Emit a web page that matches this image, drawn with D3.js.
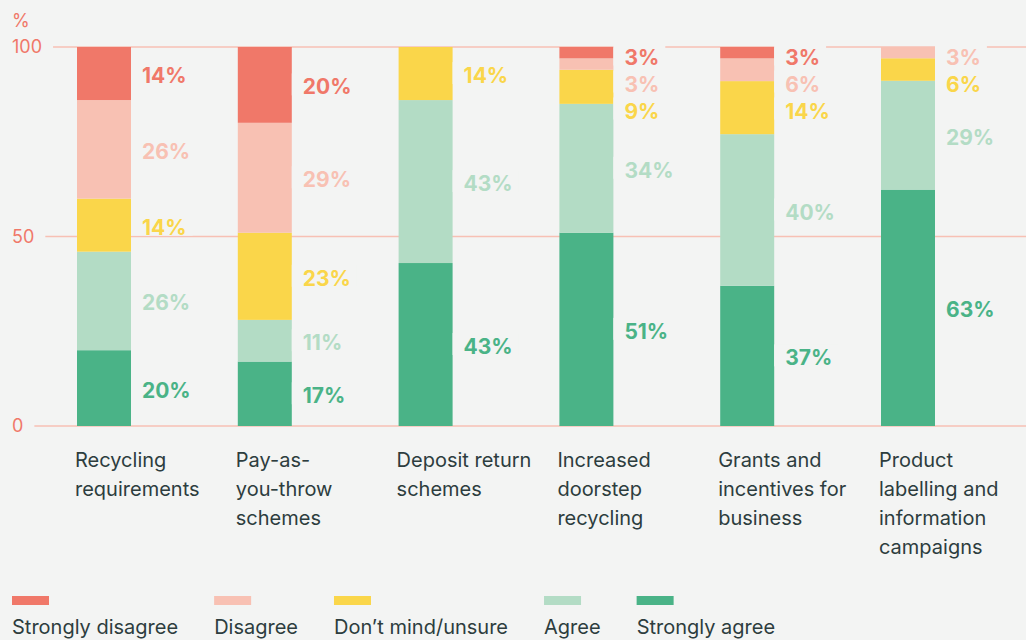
<!DOCTYPE html>
<html>
<head>
<meta charset="utf-8">
<script src="https://cdn.jsdelivr.net/npm/d3@7"></script>
<style>
  html, body { margin: 0; padding: 0; background: #f3f4f3; }
  svg { display: block; font-family: Inter, "Noto Sans", sans-serif; }
</style>
</head>
<body>
<div id="wrap"></div>
<script>
//  Categories along the x axis, each one split into several lines
const categories = [
  ["Recycling", "requirements"],
  ["Pay-as-", "you-throw", "schemes"],
  ["Deposit return", "schemes"],
  ["Increased", "doorstep", "recycling"],
  ["Grants and", "incentives for", "business"],
  ["Product", "labelling and", "information", "campaigns"],
];

//  Answer series, listed from top of the stack to the bottom
const answers = ["Strongly disagree", "Disagree", "Don\u2019t mind/unsure", "Agree", "Strongly agree"];
const colors = ["#f07869", "#f8c1b3", "#fad64a", "#b3dcc5", "#4ab387"];

//  Percent per category for each answer (as printed on the chart)
const stronglyDisagree = [14, 20, 0, 3, 3, 0];
const disagree = [26, 29, 0, 3, 6, 3];
const unsure = [14, 23, 14, 9, 14, 6];
const agree = [26, 11, 43, 34, 40, 29];
const stronglyAgree = [20, 17, 43, 51, 37, 63];

const yTicks = [0, 50, 100];

const bg = "#f3f4f3";
const textColor = "#2d3d3e";
const axisColor = "#f07869";
const gridColor = "#f7c0b4";

const W = 1026, H = 640;
const svg = d3.select("#wrap").append("svg").attr("width", W).attr("height", H);

//  build rows for d3.stack, bottom of the stack first
const keys = ["sa", "a", "u", "d", "sd"];
const series = { sd: stronglyDisagree, d: disagree, u: unsure, a: agree, sa: stronglyAgree };
const keyColor = { sd: colors[0], d: colors[1], u: colors[2], a: colors[3], sa: colors[4] };
const rows = categories.map((c, i) => {
  const r = { i: i };
  keys.forEach((k) => (r[k] = series[k][i]));
  return r;
});

//  expand offset so every bar fills 0..100 %
const stacked = d3.stack().keys(keys).offset(d3.stackOffsetExpand)(rows);

const x = d3.scaleBand().domain(d3.range(categories.length)).range([77, 935])
  .paddingInner(0.6642).paddingOuter(0);
const y = d3.scaleLinear().domain([0, 100]).range([426, 47]);

//  y axis labels and gridlines
svg.append("text").attr("x", 12).attr("y", 21).attr("dy", "0.35em")
  .attr("fill", axisColor).style("font-size", "18px").text("%");

yTicks.forEach((t) => {
  const lab = svg.append("text").attr("x", 12).attr("y", y(t)).attr("dy", "0.36em")
    .attr("fill", axisColor).style("font-size", "18px").text(t);
  const w = lab.node().getComputedTextLength();
  svg.insert("line", ":first-child").attr("class", "grid")
    .attr("x1", 12 + w + 11).attr("x2", W)
    .attr("y1", y(t)).attr("y2", y(t))
    .attr("stroke", gridColor).attr("stroke-width", 1.5);
});

//  bars
const layer = svg.selectAll(".layer").data(stacked).enter().append("g")
  .attr("class", "layer").attr("fill", (d) => keyColor[d.key]);

layer.selectAll("rect").data((d) => d).enter().append("rect")
  .attr("x", (d, i) => x(i))
  .attr("width", x.bandwidth())
  .attr("y", (d) => y(d[1] * 100))
  .attr("height", (d) => y(d[0] * 100) - y(d[1] * 100));

//  value labels to the right of each bar, pushed apart when too close
const labelGap = 27;
const labelTop = y(100) + 10;
categories.forEach((c, i) => {
  let prev = -Infinity;
  //  go from the top of the stack down
  keys.slice().reverse().forEach((k) => {
    const s = stacked.find((st) => st.key === k)[i];
    const v = series[k][i];
    if (!v) return;
    const mid = y(((s[0] + s[1]) / 2) * 100) + 2;
    const ly = Math.max(mid, prev + labelGap, labelTop);
    prev = ly;
    const lx = x(i) + x.bandwidth() + 11;
    const g = svg.append("g");
    const rect = g.append("rect").attr("fill", bg);
    const t = g.append("text").attr("x", lx).attr("y", ly).attr("dy", "0.36em")
      .attr("fill", keyColor[k]).style("font-size", "21px").style("font-weight", 700)
      .text(v + "%");
    const tw = t.node().getComputedTextLength();
    rect.attr("x", lx - 11).attr("width", tw + 17)
      .attr("y", ly - 13.5).attr("height", 22);
  });
});

//  category labels under the bars
categories.forEach((lines, i) => {
  const t = svg.append("text").attr("x", x(i) - 2).attr("y", 467)
    .attr("fill", textColor).style("font-size", "20px");
  lines.forEach((l, j) => {
    t.append("tspan").attr("x", x(i) - 2).attr("y", 467 + j * 29).text(l);
  });
});

//  legend, laid out from left to right
let lx = 12;
answers.forEach((a, i) => {
  svg.append("rect").attr("x", lx).attr("y", 596).attr("width", 37).attr("height", 9)
    .attr("fill", colors[i]);
  const t = svg.append("text").attr("x", lx).attr("y", 634)
    .attr("fill", textColor).style("font-size", "20px").text(a);
  lx += t.node().getComputedTextLength() + 36;
});
</script>
</body>
</html>
